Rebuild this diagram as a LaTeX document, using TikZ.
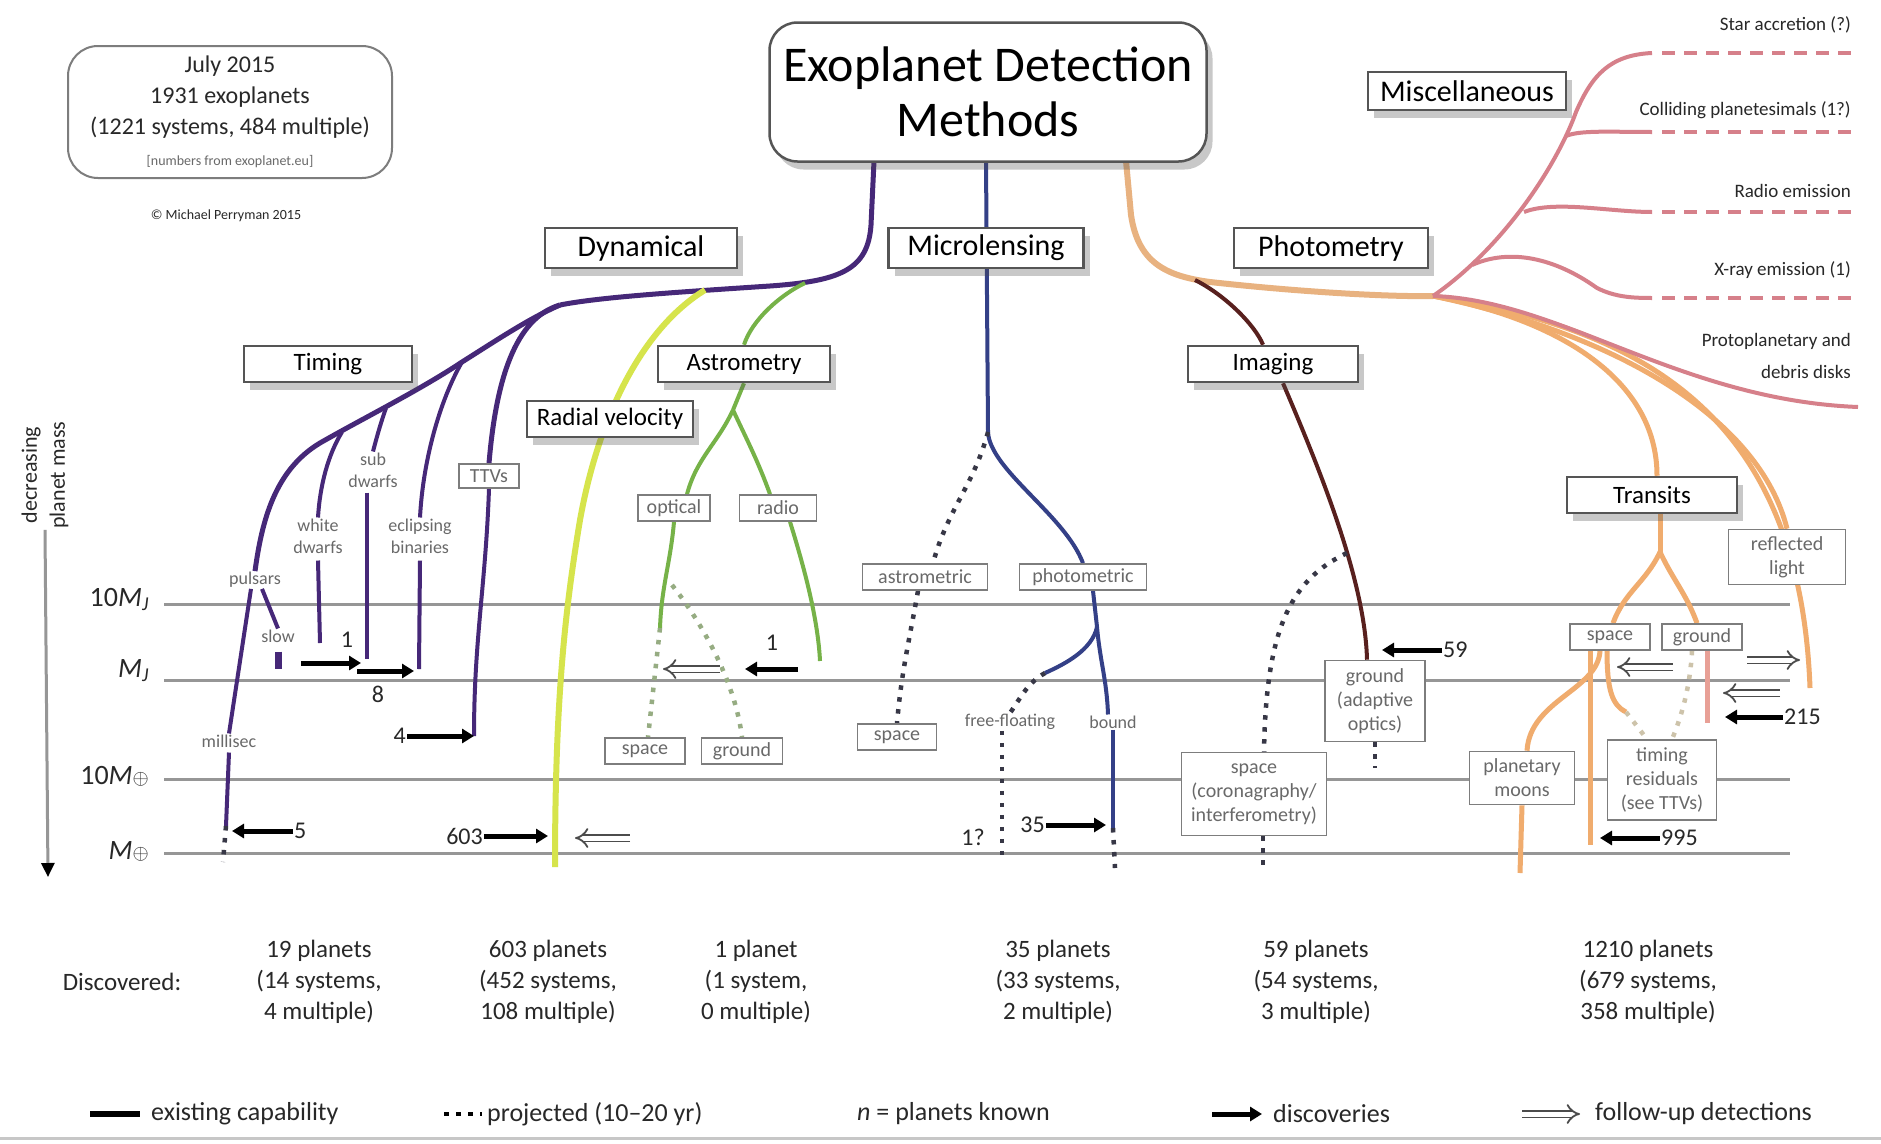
\documentclass[tikz,border=0pt]{standalone}
\usepackage{fontspec}
\setmainfont{Carlito}
\usetikzlibrary{arrows.meta,positioning,shadows}
\pgfdeclarelayer{background}
\pgfsetlayers{background,main}

\definecolor{dynPurple}{RGB}{70,40,120}
\definecolor{rvYellow}{RGB}{214,228,76}
\definecolor{astGreen}{RGB}{118,178,72}
\definecolor{astProj}{RGB}{150,172,130}
\definecolor{mlBlue}{RGB}{52,64,135}
\definecolor{projDark}{RGB}{55,55,70}
\definecolor{imgBrown}{RGB}{88,32,30}
\definecolor{phOrange}{RGB}{232,178,128}
\definecolor{trOrange}{RGB}{240,172,110}
\definecolor{trPink}{RGB}{232,160,150}
\definecolor{trProj}{RGB}{205,195,170}
\definecolor{miscPink}{RGB}{214,128,138}
\definecolor{boxGray}{RGB}{85,85,85}
\definecolor{instGray}{RGB}{125,125,125}
\definecolor{levelGray}{RGB}{150,150,150}
\definecolor{labelGray}{RGB}{105,105,105}
\definecolor{textDark}{RGB}{40,40,40}

\newcommand{\fsz}[2]{\fontsize{#1}{#2}\selectfont}

\tikzset{%
  >={Latex[width=2mm,length=2mm]},
  % Specifications for style of boxes:
          boxshadow/.style = {drop shadow={shadow xshift=6pt, shadow yshift=-8pt,
                                          opacity=0.3, fill=black!70}},
        titlebox/.style = {rectangle, rounded corners=28pt, draw=boxGray,
                           line width=2.5pt, fill=white, align=center,
                           minimum width=437pt, minimum height=139pt,
                           boxshadow, font=\fsz{50}{55}},
         infobox/.style = {rectangle, rounded corners=30pt, draw=instGray,
                           line width=2pt, align=center, text=textDark,
                           minimum width=324pt, minimum height=132pt,
                           font=\fsz{24}{31}},
       methodbox/.style = {rectangle, draw=boxGray, line width=2.5pt,
                           fill=white, inner sep=2pt, minimum height=40pt,
                           boxshadow, font=\fsz{30}{34}},
    submethodbox/.style = {methodbox, minimum height=36pt, font=\fsz{25}{28}},
         instbox/.style = {rectangle, draw=instGray, line width=1.6pt,
                           fill=white, inner sep=2pt, minimum height=26pt,
                           align=center, text=labelGray, font=\fsz{20}{24}},
       techlabel/.style = {text=labelGray, align=center, inner sep=1pt,
                           font=\fsz{18}{22}},
     planetcount/.style = {text=textDark, inner sep=1pt, font=\fsz{24}{26}},
        stattext/.style = {text=textDark, align=center, font=\fsz{25}{31}},
      legendtext/.style = {text=textDark, anchor=west, inner sep=1pt,
                           font=\fsz{26}{28}},
        misctext/.style = {text=textDark, anchor=east, align=right,
                           inner sep=1pt, font=\fsz{19}{32}},
       masslabel/.style = {text=textDark, anchor=east, inner sep=1pt,
                           font=\fsz{28}{30}},
  % Specifications for style of lines:
        massline/.style = {draw=levelGray, line width=3pt},
         dynline/.style = {draw=dynPurple, line width=5pt},
         dynthin/.style = {draw=dynPurple, line width=4pt},
          rvline/.style = {draw=rvYellow, line width=6pt},
         astline/.style = {draw=astGreen, line width=4pt},
          mlline/.style = {draw=mlBlue, line width=4pt},
         imgline/.style = {draw=imgBrown, line width=4pt},
          phline/.style = {draw=phOrange, line width=6pt},
          trline/.style = {draw=trOrange, line width=5pt},
        miscline/.style = {draw=miscPink, line width=4pt},
        miscdash/.style = {miscline, dash pattern=on 13pt off 9pt},
       projected/.style = {line width=4.5pt, dash pattern=on 4.5pt off 7.5pt},
       discovery/.style = {draw=black, line width=5pt,
                           -{Triangle[length=12pt,width=14pt]}},
        followup/.style = {draw=black!70, double=white, double distance=5pt,
                           line width=1.8pt, -{Implies}},
        axisline/.style = {draw=levelGray, line width=3pt,
                           -{Triangle[length=14pt,width=13pt,color=black]}},
}

\begin{document}
\begin{tikzpicture}[x=1pt, y=1pt]
  \useasboundingbox (0,0) rectangle (1881,-1143);
  \begin{pgfonlayer}{background}
    \fill[white] (0,0) rectangle (1881,-1143);
  \end{pgfonlayer}

  % Header
  \node (info)   [infobox] at (230,-112) {July 2015\\1931 exoplanets\\(1221 systems, 484 multiple)\\{\fsz{14}{18}\color{labelGray}[numbers from exoplanet.eu]}};
  \node (credit) [text=textDark, font=\fsz{14}{16}] at (226,-216) {\textcopyright\ Michael Perryman 2015};
  \node (title)  [titlebox] at (988,-92) {Exoplanet Detection\\Methods};

  % Specification of method boxes
  \node (micro)    [methodbox, minimum width=195pt] at (986,-248) {Microlensing};
  \node (dyn)      [methodbox, minimum width=192pt, left=149pt of micro] {Dynamical};
  \node (photo)    [methodbox, minimum width=194pt, right=148pt of micro] {Photometry};
  \node (misc)     [methodbox, minimum width=198pt, minimum height=38pt] at (1467,-91) {Miscellaneous};
  \node (timing)   [submethodbox, minimum width=168pt] at (328,-364) {Timing};
  \node (astro)    [submethodbox, minimum width=172pt] at (744,-364) {Astrometry};
  \node (imaging)  [submethodbox, minimum width=170pt] at (1273,-364) {Imaging};
  \node (rv)       [submethodbox, minimum width=166pt] at (610,-419) {Radial velocity};
  \node (transits) [submethodbox, minimum width=170pt] at (1652,-495) {Transits};

  % Specification of technique boxes and labels
  \node (ttv)         [instbox, minimum width=60pt, minimum height=24pt] at (489,-476) {TTVs};
  \node (optical)     [instbox, minimum width=72pt] at (674,-508) {optical};
  \node (radio)       [instbox, minimum width=77pt] at (778,-508) {radio};
  \node (astSpace)    [instbox, minimum width=80pt] at (645,-751) {space};
  \node (astGround)   [instbox, minimum width=81pt] at (742,-751) {ground};
  \node (astrometric) [instbox, minimum width=125pt] at (925,-577) {astrometric};
  \node (photometric) [instbox, minimum width=127pt] at (1083,-577) {photometric};
  \node (mlSpace)     [instbox, minimum width=79pt] at (897,-737) {space};
  \node (imgGround)   [instbox, minimum width=100pt, minimum height=81pt] at (1375,-701) {ground\\(adaptive\\optics)};
  \node (imgSpace)    [instbox, minimum width=145pt, minimum height=83pt] at (1254,-794) {space\\(coronagraphy/\\interferometry)};
  \node (trSpace)     [instbox, minimum width=80pt] at (1610,-637) {space};
  \node (trGround)    [instbox, minimum width=80pt] at (1702,-637) {ground};
  \node (reflected)   [instbox, minimum width=117pt, minimum height=55pt] at (1787,-557) {reflected\\light};
  \node (moons)       [instbox, minimum width=105pt, minimum height=53pt] at (1522,-778) {planetary\\moons};
  \node (timingRes)   [instbox, minimum width=109pt, minimum height=80pt] at (1662,-780) {timing\\residuals\\(see TTVs)};

  \node (pulsars)  [techlabel] at (255,-580) {pulsars};
  \node (slow)     [techlabel] at (278,-636) {slow};
  \node (millisec) [techlabel] at (229,-741) {millisec};
  \node (whiteDw)  [techlabel] at (318,-536) {white\\dwarfs};
  \node (subDw)    [techlabel] at (373,-470) {sub\\dwarfs};
  \node (eclBin)   [techlabel] at (420,-536) {eclipsing\\binaries};
  \node (freeFl)   [techlabel] at (1010,-722) {free-floating};
  \node (bound)    [techlabel] at (1113,-722) {bound};

  % Miscellaneous signatures
  \node (starAcc)  [misctext] at (1852,-25) {Star accretion (?)};
  \node (collide)  [misctext] at (1852,-110) {Colliding planetesimals (1?)};
  \node (radioEm)  [misctext] at (1852,-191) {Radio emission};
  \node (xray)     [misctext] at (1852,-270) {X-ray emission (1)};
  \node (disks)    [misctext] at (1852,-356) {Protoplanetary and\\debris disks};

  % Mass axis
  \node (massA) [masslabel] at (150,-599) {10\textit{M}\textsubscript{\textit{J}}};
  \node (massB) [masslabel] at (150,-671) {\textit{M}\textsubscript{\textit{J}}};
  \node (massC) [masslabel] at (150,-776) {10\textit{M}{\fsz{22}{22}$\oplus$}};
  \node (massD) [masslabel] at (150,-851) {\textit{M}{\fsz{22}{22}$\oplus$}};
  \node (axisLabel) [text=textDark, align=center, rotate=90, inner sep=1pt,
                     font=\fsz{22}{28}] at (45,-475) {decreasing\\planet mass};
  \coordinate (axisEnd) at (48,-877);

  % Junctions and ends of the branches
  \coordinate (dynTop) at (874,-161);
  \coordinate (dynJ)   at (770,-286);
  \coordinate (dynS)   at (560,-305);
  \coordinate (eclJ)   at (462,-362);
  \coordinate (sdJ)    at (386,-408);
  \coordinate (wdJ)    at (342,-432);
  \coordinate (rvJ)    at (705,-290);
  \coordinate (astJ)   at (805,-283);
  \coordinate (astS)   at (733,-410);
  \coordinate (mlTop)  at (986,-161);
  \coordinate (mlJ)    at (988,-432);
  \coordinate (mlS)    at (1097,-627);
  \coordinate (ffK)    at (1045,-673);
  \coordinate (phTop)  at (1126,-161);
  \coordinate (phJ)    at (1433,-296);
  \coordinate (imgJ)   at (1195,-280);
  \coordinate (imgK)   at (1347,-553);
  \coordinate (trS)    at (1660,-552);
  \coordinate (trK)    at (1626,-712);
  \coordinate (wdEnd)  at (320,-643);
  \coordinate (sdEnd)  at (367,-659);
  \coordinate (ebEnd)  at (419,-669);
  \coordinate (ttvEnd) at (474,-736);
  \coordinate (msEnd)  at (226,-826);
  \coordinate (msTip)  at (223,-862);
  \coordinate (rvEnd)  at (555,-867);
  \coordinate (optK)   at (672,-585);
  \coordinate (optEnd) at (660,-628);
  \coordinate (radEnd) at (820,-661);
  \coordinate (ffEnd)  at (1002,-858);
  \coordinate (bdEnd)  at (1113,-828);
  \coordinate (bdTip)  at (1115,-868);
  \coordinate (isEnd)  at (1263,-868);
  \coordinate (igEnd)  at (1375,-768);
  \coordinate (tsEnd)  at (1590,-845);
  \coordinate (tgEnd)  at (1707,-723);
  \coordinate (pmEnd)  at (1520,-873);
  \coordinate (rlEnd)  at (1810,-688);

  \begin{pgfonlayer}{background}
    % mass levels
    \foreach \y in {604,680,779,853}
      \draw[massline] (164,-\y) -- (1790,-\y);
    \draw[massline, draw=black!22] (0,-1138) -- (1881,-1138);
    \draw[axisline] (axisLabel.west) -- (axisEnd);

    % Dynamical: trunk, bundle and timing
    \draw[dynline] (dynTop) -- (871,-225) .. controls (868,-270) and (840,-281) .. (dynJ)
                   .. controls (680,-292) and (600,-297) .. (dynS);
    \draw[dynline] (dynS) .. controls (515,-318) and (496,-380) .. (ttv.north);
    \draw[dynline] (dynS) .. controls (530,-318) and (500,-338) .. (eclJ)
                   .. controls (420,-390) and (360,-420) .. (320,-443)
                   .. controls (275,-470) and (262,-520) .. (pulsars.north);
    \draw[dynthin] (eclJ) .. controls (440,-400) and (423,-460) .. (eclBin.north);
    \draw[dynthin] (sdJ) .. controls (380,-425) and (376,-440) .. (subDw.north);
    \draw[dynthin] (wdJ) .. controls (328,-455) and (320,-485) .. (whiteDw.north);
    \draw[dynthin] ([yshift=-6pt]whiteDw.south) -- (wdEnd);
    \draw[dynthin] ([shift={(-6pt,-4pt)}]subDw.south) -- (sdEnd);
    \draw[dynthin] ([yshift=-6pt]eclBin.south) -- (ebEnd);
    \draw[dynthin] (ttv.south) to[out=-92,in=90] (ttvEnd);
    \draw[dynthin] ([xshift=-4pt]pulsars.south) -- (millisec.north);
    \draw[dynthin] ([xshift=7pt]pulsars.south) -- (slow.north);
    \draw[dynline, line width=7pt] ([yshift=-8pt]slow.south) -- ([yshift=-25pt]slow.south);
    \draw[dynthin] ([yshift=-4pt]millisec.south) -- (msEnd);
    \draw[projected, draw=projDark] (msEnd) -- (msTip);

    % Radial velocity
    \draw[rvline] (rvJ) .. controls (640,-330) and (598,-420) .. (580,-520)
                  .. controls (565,-610) and (555,-700) .. (rvEnd);

    % Astrometry
    \draw[astline] (astJ) .. controls (780,-295) and (752,-320) .. (astro.north);
    \draw[astline] (astro.south) -- (astS);
    \draw[astline] (astS) to[out=-115,in=75] ([xshift=13pt]optical.north);
    \draw[astline] (astS) to[out=-65,in=110] ([xshift=-8pt]radio.north);
    \draw[astline] (optical.south) to[out=-95,in=88] (optEnd);
    \draw[astline] ([xshift=12pt]radio.south) .. controls (805,-570) and (818,-620) .. (radEnd);
    \draw[projected, draw=astProj] (optEnd) -- ([xshift=3pt]astSpace.north);
    \draw[projected, draw=astProj] (optK) .. controls (700,-620) and (735,-680) .. (astGround.north);

    % Microlensing
    \draw[mlline] (mlTop) -- (mlJ) .. controls (990,-470) and (1065,-515) .. (photometric.north);
    \draw[projected, draw=projDark] (mlJ) to[out=-105,in=75] ([xshift=8pt]astrometric.north);
    \draw[projected, draw=projDark] ([xshift=-7pt]astrometric.south) to[out=-100,in=85] (mlSpace.north);
    \draw[mlline] ([xshift=10pt]photometric.south) -- (mlS);
    \draw[mlline] (mlS) to[out=-85,in=92] ([xshift=-5pt]bound.north);
    \draw[mlline] (mlS) .. controls (1092,-650) and (1065,-664) .. (ffK);
    \draw[projected, draw=projDark] (ffK) to[out=-150,in=55] (freeFl.north);
    \draw[projected, draw=projDark] ([xshift=-8pt]freeFl.south) -- (ffEnd);
    \draw[mlline] (bound.south) -- (bdEnd);
    \draw[projected, draw=projDark] (bdEnd) -- (bdTip);

    % Photometry and imaging
    \draw[phline] (phTop) -- (1131,-215) .. controls (1138,-262) and (1165,-276) .. (1210,-282)
                  .. controls (1300,-292) and (1390,-297) .. (phJ);
    \draw[imgline] (imgJ) .. controls (1225,-295) and (1255,-325) .. ([xshift=-10pt]imaging.north);
    \draw[imgline] ([xshift=10pt]imaging.south) .. controls (1320,-470) and (1365,-580) .. ([xshift=-8pt]imgGround.north);
    \draw[projected, draw=projDark] (imgK) .. controls (1290,-580) and (1266,-630) .. ([xshift=10pt]imgSpace.north);
    \draw[projected, draw=projDark] ([xshift=9pt]imgSpace.south) -- (isEnd);
    \draw[projected, draw=projDark] (imgGround.south) -- (igEnd);

    % Transits
    \draw[trline] (phJ) .. controls (1560,-320) and (1657,-380) .. ([xshift=5pt]transits.north);
    \draw[trline] (phJ) .. controls (1620,-335) and (1760,-420) .. (reflected.north);
    \draw[trline] (phJ) .. controls (1650,-330) and (1800,-420) .. (rlEnd);
    \draw[trline] ([xshift=8pt]transits.south) -- (trS);
    \draw[trline] (trS) to[out=-115,in=70] ([xshift=3pt]trSpace.north);
    \draw[trline] (trS) to[out=-65,in=110] ([xshift=-5pt]trGround.north);
    \draw[trline] ([xshift=-10pt]trSpace.south) .. controls (1598,-690) and (1530,-700) .. ([xshift=5pt]moons.north);
    \draw[trline] ([xshift=-20pt]trSpace.south) -- (tsEnd);
    \draw[trline] ([xshift=-3pt]trSpace.south) .. controls (1607,-690) and (1612,-705) .. (trK);
    \draw[projected, draw=trProj] (trK) -- ([xshift=-15pt]timingRes.north);
    \draw[trline, draw=trPink] ([xshift=5pt]trGround.south) -- (tgEnd);
    \draw[projected, draw=trProj] ([xshift=-10pt]trGround.south) .. controls (1690,-690) and (1680,-720) .. ([xshift=10pt]timingRes.north);
    \draw[trline] (moons.south) -- (pmEnd);

    % Miscellaneous
    \draw[miscline] (phJ) .. controls (1500,-250) and (1555,-170) .. (1576,-112)
                    .. controls (1592,-75) and (1610,-55) .. (1652,-53);
    \draw[miscline] (1566,-136) .. controls (1580,-130) and (1610,-132) .. (1652,-132);
    \draw[miscline] (1524,-212) .. controls (1555,-200) and (1610,-212) .. (1652,-212);
    \draw[miscline] (1472,-265) .. controls (1510,-248) and (1555,-258) .. (1597,-288)
                    .. controls (1615,-297) and (1632,-298) .. (1652,-298);
    \draw[miscline] (phJ) .. controls (1560,-300) and (1680,-400) .. (1858,-407);
    \foreach \y in {53,132,212,298}
      \draw[miscdash] (1662,-\y) -- (1852,-\y);
  \end{pgfonlayer}

  % Discoveries (n = planets known)
  \coordinate (sdHit)  at (361,-663);
  \coordinate (ebHit)  at (414,-671);
  \node (nOne)   [planetcount] at (347,-640) {1};
  \node (nEight) [planetcount] at (378,-694) {8};
  \node (nFour)  [planetcount, anchor=east] at (407,-736) {4};
  \node (nFive)  [planetcount, anchor=west] at (293,-831) {5};
  \node (nRV)    [planetcount, anchor=east] at (484,-836) {603};
  \node (nAst)   [planetcount] at (772,-643) {1};
  \node (nML)    [planetcount, anchor=east] at (1046,-825) {35};
  \node (nFree)  [planetcount] at (973,-837) {1?};
  \node (nImg)   [planetcount, anchor=west] at (1442,-650) {59};
  \node (nRefl)  [planetcount, anchor=west] at (1783,-717) {215};
  \node (nTr)    [planetcount, anchor=west] at (1660,-838) {995};

  \draw[discovery] (301,-663) -- (sdHit);
  \draw[discovery] (357,-671) -- (ebHit);
  \draw[discovery] (nFour.east) -- (ttvEnd);
  \draw[discovery] (nFive.west) -- (232,-831);
  \draw[discovery] (nRV.east) -- (548,-836);
  \draw[discovery] (798,-669) -- (745,-669);
  \draw[discovery] (nML.east) -- (1106,-825);
  \draw[discovery] (nImg.west) -- (1382,-650);
  \draw[discovery] (nRefl.west) -- (1725,-717);
  \draw[discovery] (nTr.west) -- (1600,-838);

  % Follow-up detections
  \draw[followup] (630,-838) -- (575,-838);
  \draw[followup] (720,-669) -- (663,-669);
  \draw[followup] (1673,-667) -- (1617,-667);
  \draw[followup] (1747,-660) -- (1800,-660);
  \draw[followup] (1780,-693) -- (1723,-693);

  % Discovered counts
  \node (discovered) [stattext] at (122,-982) {Discovered:};
  \foreach \x/\txt [count=\i] in {319/{19 planets\\(14 systems,\\4 multiple)},
                                  548/{603 planets\\(452 systems,\\108 multiple)},
                                  756/{1 planet\\(1 system,\\0 multiple)},
                                  1058/{35 planets\\(33 systems,\\2 multiple)},
                                  1316/{59 planets\\(54 systems,\\3 multiple)},
                                  1648/{1210 planets\\(679 systems,\\358 multiple)}}
    \node (stat\i) [stattext] at (\x,-982) {\txt};

  % Legend
  \node (legExist)  [legendtext] at (150,-1114) {existing capability};
  \node (legProj)   [legendtext] at (486,-1114) {projected (10--20 yr)};
  \node (legKnown)  [legendtext] at (856,-1114) {\textit{n} = planets known};
  \node (legDisc)   [legendtext] at (1272,-1114) {discoveries};
  \node (legFollow) [legendtext] at (1594,-1114) {follow-up detections};
  \draw[line width=6pt] ([xshift=-60pt]legExist.west) -- ([xshift=-10pt]legExist.west);
  \draw[projected, draw=black] ([xshift=-42pt]legProj.west) -- ([xshift=-4pt]legProj.west);
  \draw[discovery] ([xshift=-60pt]legDisc.west) -- ([xshift=-10pt]legDisc.west);
  \draw[followup] ([xshift=-72pt]legFollow.west) -- ([xshift=-14pt]legFollow.west);
\end{tikzpicture}
\end{document}
